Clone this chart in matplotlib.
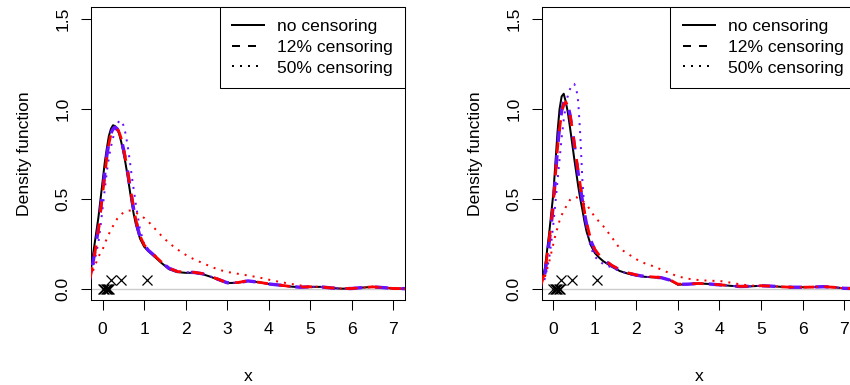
import numpy as np
import matplotlib
matplotlib.use("Agg")
import matplotlib.pyplot as plt
from matplotlib.lines import Line2D

plt.rcParams["font.family"] = ["Liberation Sans", "DejaVu Sans"]
plt.rcParams["font.size"] = 12.6

# ── density estimates (shared x grid) ───────────────────────────────────────
x_grid = [-0.3, -0.2, -0.1, -0.05,
          0.0, 0.05, 0.1, 0.15, 0.2, 0.25, 0.3, 0.35, 0.4, 0.45, 0.5, 0.55, 0.6, 0.65, 0.7, 0.75, 0.8,
          0.9, 1.0, 1.1,
          1.2, 1.4, 1.6, 1.8, 2.0, 2.2, 2.4, 2.6, 2.8, 3.0,
          3.25, 3.5, 3.75, 4.0, 4.25, 4.5, 4.75, 5.0, 5.25, 5.5, 5.75, 6.0,
          6.25, 6.5, 6.75, 7.0, 7.3]

# left panel
left_none = [0.08, 0.24, 0.40, 0.50,
             0.60, 0.70, 0.78, 0.85, 0.89, 0.91, 0.905, 0.89, 0.86, 0.815, 0.76, 0.70, 0.63, 0.555, 0.48, 0.415, 0.36,
             0.28, 0.235, 0.21,
             0.19, 0.148, 0.11, 0.094, 0.09, 0.09, 0.083, 0.068, 0.05, 0.033,
             0.035, 0.045, 0.038, 0.028, 0.022, 0.014, 0.01, 0.012, 0.012, 0.006, 0.002, 0.003,
             0.008, 0.012, 0.008, 0.003, 0.002]
left_12_blue = [0.06, 0.19, 0.34, 0.44,
                0.54, 0.64, 0.74, 0.81, 0.865, 0.89, 0.9, 0.89, 0.87, 0.83, 0.78, 0.72, 0.655, 0.58, 0.51, 0.44, 0.38,
                0.29, 0.245, 0.215,
                0.195, 0.152, 0.115, 0.097, 0.093, 0.092, 0.085, 0.07, 0.052, 0.035,
                0.035, 0.045, 0.038, 0.028, 0.022, 0.015, 0.01, 0.012, 0.012, 0.006, 0.002, 0.003,
                0.008, 0.012, 0.008, 0.003, 0.002]
left_12_red = [0.06, 0.18, 0.33, 0.43,
               0.53, 0.63, 0.73, 0.805, 0.86, 0.885, 0.895, 0.89, 0.87, 0.835, 0.785, 0.725, 0.66, 0.585, 0.515, 0.445, 0.385,
               0.295, 0.245, 0.217,
               0.197, 0.153, 0.116, 0.097, 0.094, 0.093, 0.086, 0.071, 0.053, 0.035,
               0.036, 0.046, 0.038, 0.029, 0.022, 0.015, 0.011, 0.012, 0.012, 0.006, 0.003, 0.003,
               0.008, 0.012, 0.008, 0.003, 0.002]
left_50_blue = [0.05, 0.15, 0.26, 0.35,
                0.45, 0.55, 0.65, 0.73, 0.79, 0.84, 0.88, 0.915, 0.935, 0.935, 0.91, 0.865, 0.80, 0.72, 0.63, 0.55, 0.47,
                0.33, 0.25, 0.21,
                0.195, 0.15, 0.115, 0.097, 0.093, 0.092, 0.085, 0.07, 0.052, 0.035,
                0.035, 0.045, 0.038, 0.028, 0.022, 0.015, 0.01, 0.012, 0.012, 0.006, 0.002, 0.003,
                0.008, 0.012, 0.008, 0.003, 0.002]
left_50_red = [0.06, 0.12, 0.18, 0.20,
               0.22, 0.25, 0.28, 0.305, 0.33, 0.35, 0.37, 0.39, 0.405, 0.415, 0.425, 0.43, 0.435, 0.436, 0.435, 0.43, 0.425,
               0.41, 0.395, 0.375,
               0.35, 0.30, 0.255, 0.22, 0.19, 0.165, 0.145, 0.125, 0.107, 0.095,
               0.085, 0.075, 0.065, 0.052, 0.04, 0.03, 0.02, 0.014, 0.012, 0.007, 0.003, 0.003,
               0.007, 0.011, 0.008, 0.003, 0.002]

# right panel
right_none = [0.01, 0.12, 0.31, 0.42,
              0.53, 0.70, 0.87, 1.00, 1.07, 1.085, 1.04, 0.98, 0.90, 0.815, 0.73, 0.65, 0.57, 0.50, 0.44, 0.375, 0.32,
              0.245, 0.20, 0.175,
              0.155, 0.125, 0.10, 0.085, 0.075, 0.068, 0.065, 0.063, 0.05, 0.024,
              0.027, 0.031, 0.028, 0.023, 0.018, 0.014, 0.015, 0.018, 0.016, 0.012, 0.01, 0.01,
              0.011, 0.013, 0.01, 0.004, 0.002]
right_12_blue = [0.01, 0.09, 0.26, 0.36,
                 0.47, 0.62, 0.78, 0.90, 0.99, 1.035, 1.05, 1.02, 0.97, 0.895, 0.81, 0.725, 0.64, 0.565, 0.49, 0.42, 0.36,
                 0.27, 0.215, 0.185,
                 0.165, 0.13, 0.105, 0.088, 0.077, 0.07, 0.066, 0.063, 0.05, 0.026,
                 0.027, 0.031, 0.028, 0.023, 0.018, 0.014, 0.015, 0.018, 0.016, 0.012, 0.01, 0.01,
                 0.011, 0.013, 0.01, 0.004, 0.002]
right_12_red = [0.02, 0.10, 0.27, 0.37,
                0.48, 0.63, 0.78, 0.89, 0.98, 1.025, 1.04, 1.015, 0.97, 0.90, 0.82, 0.735, 0.65, 0.575, 0.50, 0.43, 0.37,
                0.275, 0.22, 0.19,
                0.168, 0.133, 0.107, 0.09, 0.078, 0.071, 0.067, 0.064, 0.052, 0.027,
                0.028, 0.031, 0.028, 0.024, 0.019, 0.015, 0.015, 0.018, 0.016, 0.012, 0.01, 0.01,
                0.011, 0.013, 0.01, 0.004, 0.002]
right_50_blue = [0.01, 0.06, 0.17, 0.26,
                 0.36, 0.48, 0.60, 0.72, 0.84, 0.94, 1.02, 1.075, 1.11, 1.135, 1.14, 1.12, 1.04, 0.85, 0.60, 0.44, 0.35,
                 0.23, 0.18, 0.155,
                 0.14, 0.12, 0.10, 0.085, 0.075, 0.068, 0.065, 0.063, 0.05, 0.025,
                 0.027, 0.031, 0.028, 0.023, 0.018, 0.014, 0.015, 0.018, 0.016, 0.012, 0.01, 0.01,
                 0.011, 0.013, 0.01, 0.004, 0.002]
right_50_red = [0.03, 0.07, 0.15, 0.20,
                0.25, 0.30, 0.34, 0.38, 0.41, 0.435, 0.455, 0.475, 0.495, 0.505, 0.51, 0.51, 0.505, 0.50, 0.49, 0.48, 0.47,
                0.435, 0.40, 0.375,
                0.35, 0.29, 0.225, 0.195, 0.165, 0.143, 0.127, 0.108, 0.088, 0.07,
                0.057, 0.05, 0.046, 0.045, 0.036, 0.026, 0.019, 0.018, 0.017, 0.012, 0.01, 0.01,
                0.012, 0.013, 0.01, 0.004, 0.002]

# crosses near zero (same in both panels)
cross_low_x = [0.0, 0.04, 0.07, 0.10, 0.13, 0.16]
cross_low_y = [0.0, 0.0, 0.0, 0.0, 0.0, 0.0]
cross_high_x = [0.19, 0.45, 1.06]
cross_high_y = [0.05, 0.05, 0.05]

x_ticks = [0, 1, 2, 3, 4, 5, 6, 7]
y_ticks = [0.0, 0.5, 1.0, 1.5]
y_ticklabels = ["0.0", "0.5", "1.0", "1.5"]
legend_labels = ["no censoring", "12% censoring", "50% censoring"]

BLUE = "#6611ff"
RED = "#ff0000"
LW = 1.44  # about 2 px at 100 dpi


def draw_panel(ax, none, d12_blue, d12_red, d50_blue, d50_red):
    ax.axhline(0, color="#cccccc", lw=1.0, zorder=1)
    ax.plot(x_grid, none, color="black", lw=LW, zorder=2)
    ax.plot(x_grid, d12_blue, color=BLUE, lw=2.4, ls=(4, (4, 4)), zorder=3)
    ax.plot(x_grid, d12_red, color=RED, lw=2.0, ls=(0, (4, 4)), zorder=4)
    ax.plot(x_grid, d50_blue, color=BLUE, lw=LW, ls=(0, (1, 3)), zorder=3)
    ax.plot(x_grid, d50_red, color=RED, lw=LW, ls=(0, (1, 3)), zorder=4)
    ax.plot(cross_low_x, cross_low_y, ls="none", marker="x", ms=6.5, mew=0.9, color="black", zorder=5)
    ax.plot(cross_high_x, cross_high_y, ls="none", marker="x", ms=6.5, mew=0.9, color="black", zorder=5)

    ax.set_xlim(-0.28, 7.28)
    ax.set_ylim(-0.061, 1.567)
    ax.set_xticks(x_ticks)
    ax.set_yticks(y_ticks)
    ax.set_yticklabels(y_ticklabels, rotation=90, va="center")
    ax.tick_params(direction="out", length=7.2, width=0.75)
    ax.tick_params(axis="x", pad=9)
    ax.tick_params(axis="y", pad=7.5)
    for sp in ax.spines.values():
        sp.set_linewidth(0.75)
    ax.set_xlabel("x", labelpad=22.5)
    ax.set_ylabel("Density function", labelpad=17)

    handles = [Line2D([], [], color="black", lw=LW, ls="-"),
               Line2D([], [], color="black", lw=LW, ls=(0, (4, 4))),
               Line2D([], [], color="black", lw=LW, ls=(0, (1, 3)))]
    leg = ax.legend(handles, legend_labels, loc="upper right", borderaxespad=0,
                    fancybox=False, framealpha=1, edgecolor="black",
                    handlelength=1.83, handletextpad=0.75, borderpad=0.7,
                    labelspacing=0.3, fontsize=12.6)
    leg.get_frame().set_linewidth(0.75)


fig = plt.figure(figsize=(8.5, 3.85), dpi=100)
ax1 = fig.add_axes([91 / 850, 85 / 385, 314 / 850, 293 / 385])
ax2 = fig.add_axes([541.7 / 850, 85 / 385, 314 / 850, 293 / 385])

draw_panel(ax1, left_none, left_12_blue, left_12_red, left_50_blue, left_50_red)
draw_panel(ax2, right_none, right_12_blue, right_12_red, right_50_blue, right_50_red)

fig.savefig("out.png", dpi=100)
